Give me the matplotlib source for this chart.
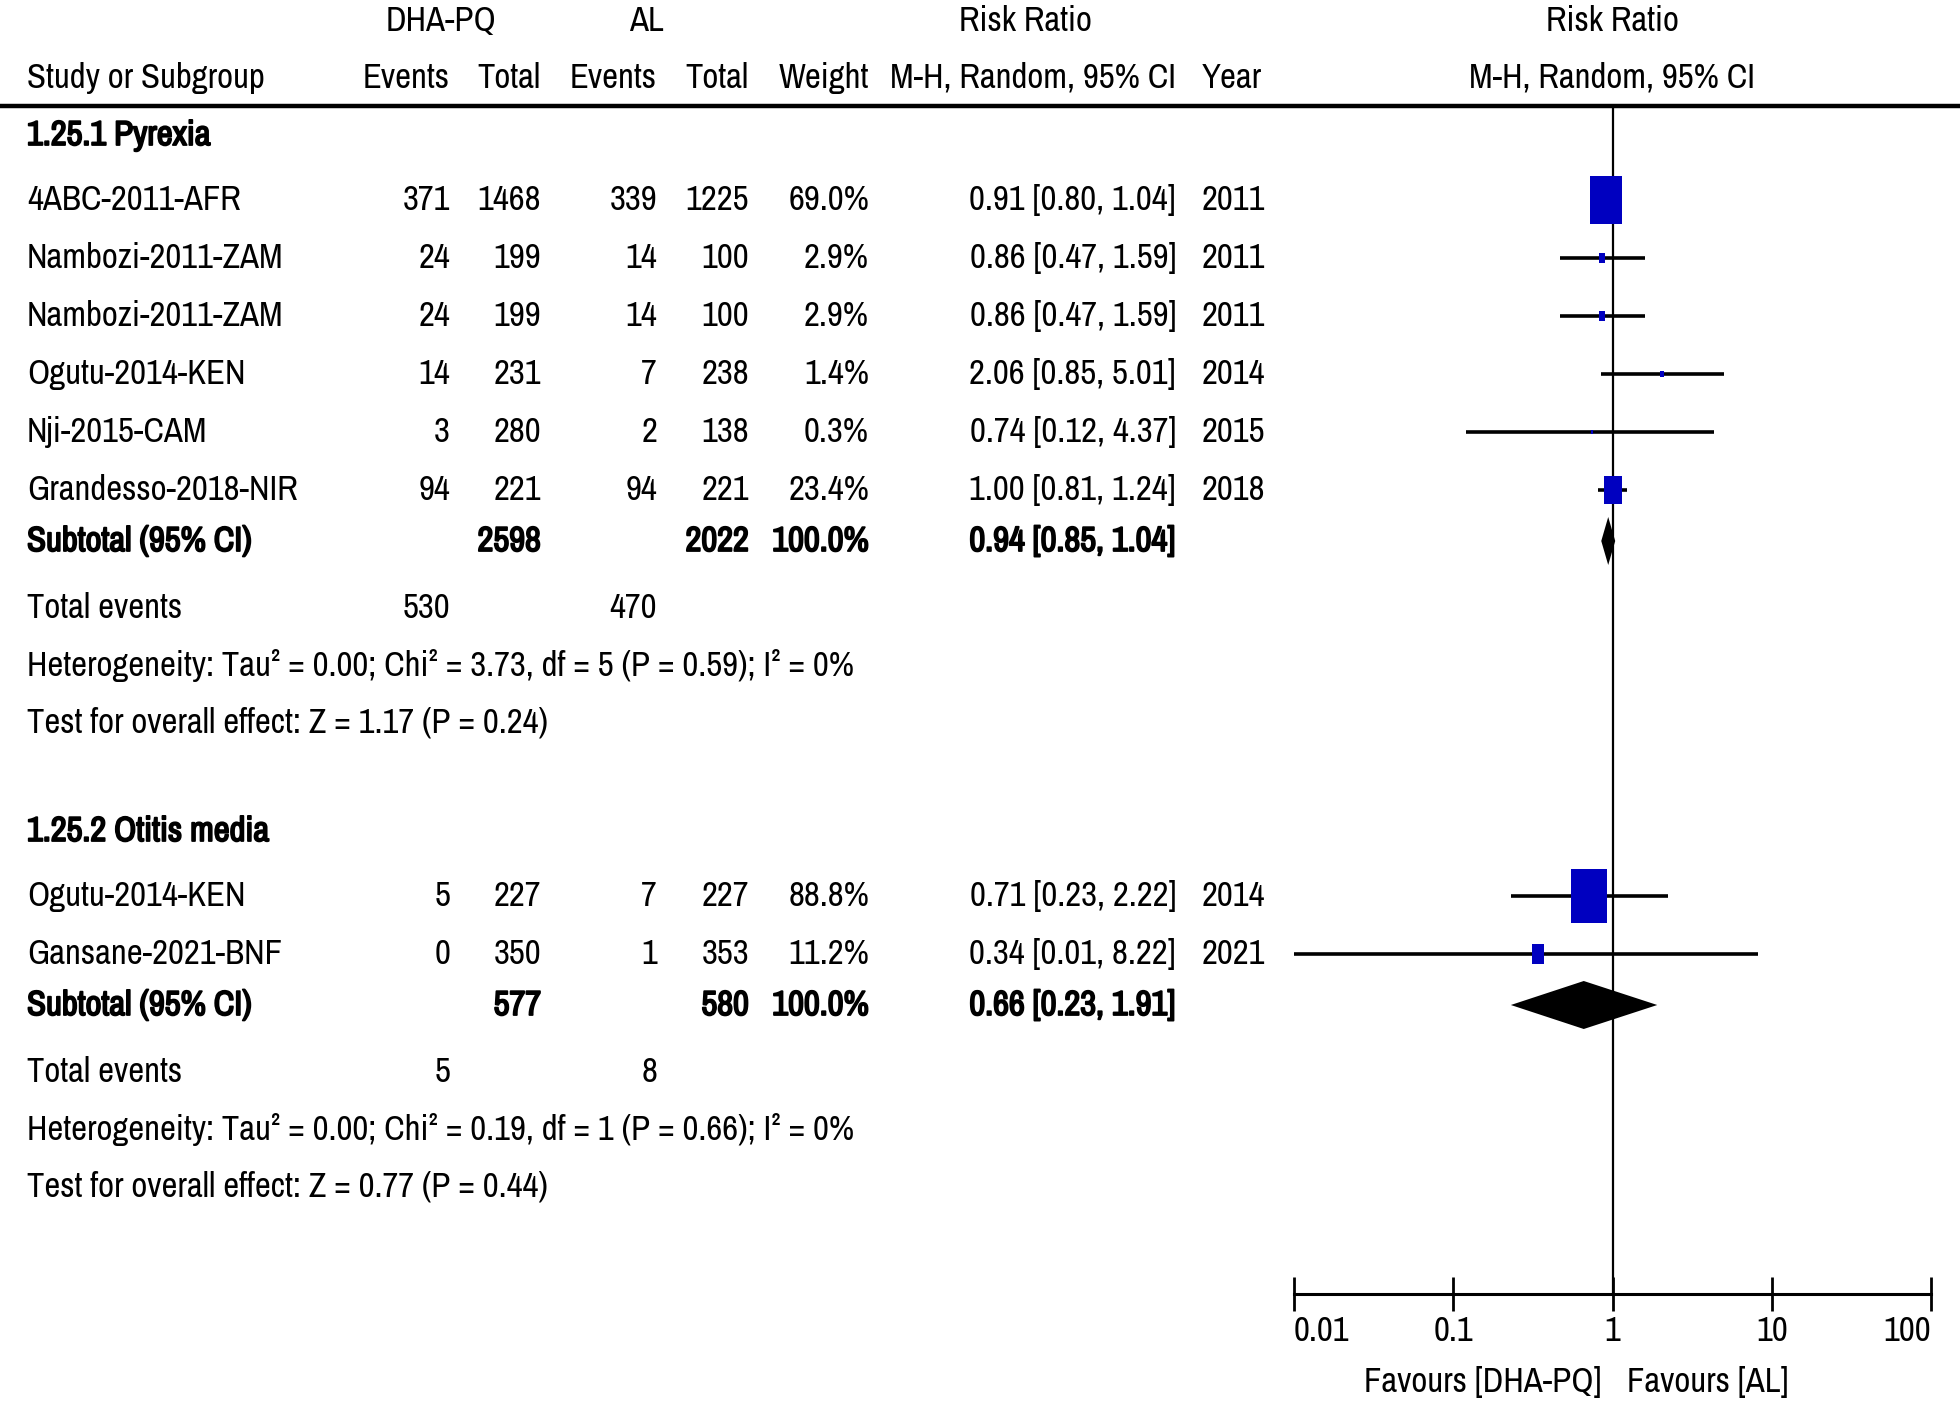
import matplotlib
matplotlib.use("Agg")
import matplotlib.pyplot as plt
import matplotlib.patheffects as pe
from matplotlib.path import Path
from matplotlib.lines import Line2D
import numpy as np

plt.rcParams['font.family'] = ['Archivo Narrow', 'DejaVu Sans']

# --- data -----------------------------------------------------------------
group_titles = ["1.25.1 Pyrexia", "1.25.2 Otitis media"]

studies = [
    ["4ABC-2011-AFR", "Nambozi-2011-ZAM", "Nambozi-2011-ZAM",
     "Ogutu-2014-KEN", "Nji-2015-CAM", "Grandesso-2018-NIR"],
    ["Ogutu-2014-KEN", "Gansane-2021-BNF"],
]
dha_events = [[371, 24, 24, 14, 3, 94], [5, 0]]
dha_total = [[1468, 199, 199, 231, 280, 221], [227, 350]]
al_events = [[339, 14, 14, 7, 2, 94], [7, 1]]
al_total = [[1225, 100, 100, 238, 138, 221], [227, 353]]
weights = [[69.0, 2.9, 2.9, 1.4, 0.3, 23.4], [88.8, 11.2]]
rr = [[0.91, 0.86, 0.86, 2.06, 0.74, 1.00], [0.71, 0.34]]
rr_lo = [[0.80, 0.47, 0.47, 0.85, 0.12, 0.81], [0.23, 0.01]]
rr_hi = [[1.04, 1.59, 1.59, 5.01, 4.37, 1.24], [2.22, 8.22]]
years = [[2011, 2011, 2011, 2014, 2015, 2018], [2014, 2021]]

sub_dha_total = [2598, 577]
sub_al_total = [2022, 580]
sub_rr = [0.94, 0.66]
sub_lo = [0.85, 0.23]
sub_hi = [1.04, 1.91]
tot_dha_events = [530, 5]
tot_al_events = [470, 8]
heterogeneity = [
    "Heterogeneity: Tau\u00b2 = 0.00; Chi\u00b2 = 3.73, df = 5 (P = 0.59); I\u00b2 = 0%",
    "Heterogeneity: Tau\u00b2 = 0.00; Chi\u00b2 = 0.19, df = 1 (P = 0.66); I\u00b2 = 0%",
]
overall = [
    "Test for overall effect: Z = 1.17 (P = 0.24)",
    "Test for overall effect: Z = 0.77 (P = 0.44)",
]
x_ticks = [0.01, 0.1, 1, 10, 100]
x_ticklabels = ["0.01", "0.1", "1", "10", "100"]

# --- layout (pixels) ------------------------------------------------------
W, H = 1960, 1410
FS = 25
blue = "#0000c0"
bold_fx = [pe.withStroke(linewidth=1.3, foreground="black")]

fig = plt.figure(figsize=(W / 100, H / 100), dpi=100)
tax = fig.add_axes([0, 0, 1, 1])
tax.set_xlim(0, W)
tax.set_ylim(H, 0)
tax.axis("off")

ax_l, ax_r = 1294, 1931
ax = fig.add_axes([ax_l / W, 0, (ax_r - ax_l) / W, 1])
ax.set_xscale("log")
ax.set_xlim(0.01, 100)
ax.set_ylim(H, 0)
ax.patch.set_alpha(0)
for s in ["top", "left", "right"]:
    ax.spines[s].set_visible(False)
axis_y = 1294
ax.spines["bottom"].set_position(("data", axis_y))
ax.spines["bottom"].set_linewidth(2.2)
ax.set_yticks([])
ax.set_xticks(x_ticks)
ax.set_xticklabels(x_ticklabels)
ax.minorticks_off()
ax.tick_params(axis="x", direction="inout", length=24, width=2, labelsize=FS, pad=3)
tl = ax.get_xticklabels()
tl[0].set_ha("left")
tl[-1].set_ha("right")

# columns (right edges for numbers)
c_name = 27
c_dev, c_dtot, c_aev, c_atot, c_w, c_ci, c_year = 450, 541, 657, 749, 869, 1176, 1202


def txt(x, y, s, ha="left", bold=False):
    t = tax.text(x, y, s, ha=ha, va="center", fontsize=FS)
    if bold:
        t.set_path_effects(bold_fx)


# header
txt(441, 21, "DHA-PQ", ha="center")
txt(646, 21, "AL", ha="center")
txt(1025, 21, "Risk Ratio", ha="center")
txt(1612, 21, "Risk Ratio", ha="center")
hy = 78
txt(c_name, hy, "Study or Subgroup")
txt(c_dev, hy, "Events", ha="right")
txt(c_dtot, hy, "Total", ha="right")
txt(c_aev, hy, "Events", ha="right")
txt(c_atot, hy, "Total", ha="right")
txt(c_w, hy, "Weight", ha="right")
txt(c_ci, hy, "M-H, Random, 95% CI", ha="right")
txt(c_year, hy, "Year")
txt(1612, hy, "M-H, Random, 95% CI", ha="center")
fig.add_artist(Line2D([0, 1], [1 - 106 / H] * 2, color="black", lw=3.2))

ax.vlines(1, 106, axis_y, color="black", lw=1.6, zorder=1)

# row positions per group
group_top = [135, 831]
row_step = 58

sq = Path([(-1 / 3, -0.5), (1 / 3, -0.5), (1 / 3, 0.5), (-1 / 3, 0.5), (-1 / 3, -0.5)],
          [Path.MOVETO, Path.LINETO, Path.LINETO, Path.LINETO, Path.CLOSEPOLY])

for g in range(2):
    y0 = group_top[g]
    txt(c_name, y0, group_titles[g], bold=True)
    y = y0 + 65
    for i, name in enumerate(studies[g]):
        txt(c_name, y, name)
        txt(c_dev, y, str(dha_events[g][i]), ha="right")
        txt(c_dtot, y, str(dha_total[g][i]), ha="right")
        txt(c_aev, y, str(al_events[g][i]), ha="right")
        txt(c_atot, y, str(al_total[g][i]), ha="right")
        txt(c_w, y, f"{weights[g][i]:.1f}%", ha="right")
        txt(c_ci, y, f"{rr[g][i]:.2f} [{rr_lo[g][i]:.2f}, {rr_hi[g][i]:.2f}]", ha="right")
        txt(c_year, y, str(years[g][i]))
        ax.hlines(y, rr_lo[g][i], rr_hi[g][i], color="black", lw=2.6, zorder=2)
        ms = 4.1 * np.sqrt(weights[g][i])
        ax.plot(rr[g][i], y, marker=sq, markersize=ms, color=blue,
                markeredgewidth=0, linestyle="none", zorder=3)
        y += row_step
    ys = y - 7
    txt(c_name, ys, "Subtotal (95% CI)", bold=True)
    txt(c_dtot, ys, str(sub_dha_total[g]), ha="right", bold=True)
    txt(c_atot, ys, str(sub_al_total[g]), ha="right", bold=True)
    txt(c_w, ys, "100.0%", ha="right", bold=True)
    txt(c_ci, ys, f"{sub_rr[g]:.2f} [{sub_lo[g]:.2f}, {sub_hi[g]:.2f}]", ha="right", bold=True)
    ax.fill([sub_lo[g], sub_rr[g], sub_hi[g], sub_rr[g]],
            [ys, ys - 24, ys, ys + 24], color="black", lw=0, zorder=3)
    yt = ys + 67
    txt(c_name, yt, "Total events")
    txt(c_dev, yt, str(tot_dha_events[g]), ha="right")
    txt(c_aev, yt, str(tot_al_events[g]), ha="right")
    txt(c_name, yt + 58, heterogeneity[g])
    txt(c_name, yt + 115, overall[g])

txt(1601, 1382, "Favours [DHA-PQ]", ha="right")
txt(1627, 1382, "Favours [AL]")

fig.savefig("out.png", dpi=100)
